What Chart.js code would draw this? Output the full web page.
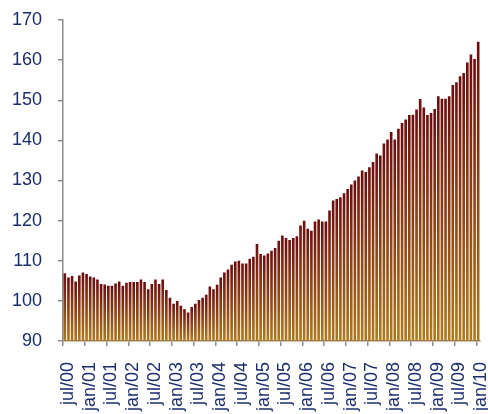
<!DOCTYPE html>
<html>
<head>
<meta charset="utf-8">
<script src="https://cdn.jsdelivr.net/npm/chart.js@4/dist/chart.umd.min.js"></script>
<style>
  html, body { margin: 0; padding: 0; background: #fff; }
  #wrap { width: 488px; height: 414px; }
</style>
</head>
<body>
<div id="wrap"><canvas id="indexChart" width="488" height="414"></canvas></div>
<script>
// monthly index values, jul/00 .. jan/10
const v2000 = [106.9, 105.8, 106.2, 104.8, 106.3, 107.1];
const v2001 = [106.7, 106.1, 105.8, 105.3, 104.2, 104.1, 103.8, 103.8, 104.3, 104.8, 103.8, 104.5];
const v2002 = [104.7, 104.7, 104.7, 105.3, 104.7, 102.9, 104.2, 105.3, 104.2, 105.3, 102.7, 100.8];
const v2003 = [99.3, 100, 98.8, 97.9, 97.1, 98.5, 99.3, 100.2, 100.8, 101.5, 103.6, 102.9];
const v2004 = [104, 105.8, 107.1, 107.8, 109, 109.8, 110, 109.3, 109.3, 110.5, 111, 114.2];
const v2005 = [111.7, 111.3, 111.8, 112.5, 113.2, 115, 116.3, 115.7, 115.2, 115.7, 116.1, 118.8];
const v2006 = [120, 118, 117.5, 119.8, 120.3, 119.8, 119.8, 122.5, 125, 125.4, 125.8, 126.8];
const v2007 = [127.9, 129, 130, 131, 132.5, 132.1, 133.3, 134.6, 136.7, 136.2, 139.2, 140.2];
const v2008 = [142.1, 140.2, 142.9, 144.3, 145.2, 146.3, 146.4, 147.7, 150.3, 148.2, 146.3, 146.8];
const v2009 = [147.8, 151, 150.4, 150.4, 151, 153.8, 154.5, 156, 156.8, 159.4, 161.4, 160.3];
const v2010 = [164.6];

// one label every 6 months
const tickLabels = ['jul/00', 'jan/01', 'jul/01', 'jan/02', 'jul/02', 'jan/03', 'jul/03', 'jan/04',
  'jul/04', 'jan/05', 'jul/05', 'jan/06', 'jul/06', 'jan/07', 'jul/07', 'jan/08', 'jul/08',
  'jan/09', 'jul/09', 'jan/10'];
const monthNames = ['jan', 'feb', 'mar', 'apr', 'may', 'jun', 'jul', 'aug', 'sep', 'oct', 'nov', 'dec'];

const values = [].concat(v2000, v2001, v2002, v2003, v2004, v2005, v2006, v2007, v2008, v2009, v2010);
const categories = values.map((v, i) => {
  const m = (6 + i) % 12;
  const y = 2000 + Math.floor((6 + i) / 12);
  return monthNames[m] + '/' + String(y).slice(2);
});

const axisGrey = '#8c8c8c';
const labelBlue = '#1c2d6e';
const font = { family: "'Liberation Sans', Arial, sans-serif", size: 18 };

function barFill(ctx) {
  const chart = ctx.chart;
  const area = chart.chartArea;
  if (!area || ctx.raw === undefined) return '#7a2a15';
  const top = chart.scales.y.getPixelForValue(ctx.raw);
  const g = chart.ctx.createLinearGradient(0, top, 0, area.bottom);
  g.addColorStop(0, '#6c0c0c');
  g.addColorStop(1, '#b07a1c');
  return g;
}

new Chart(document.getElementById('indexChart'), {
  type: 'bar',
  data: {
    labels: categories,
    datasets: [{
      data: values,
      backgroundColor: barFill,
      borderWidth: 0,
      barPercentage: 0.72,
      categoryPercentage: 1
    }]
  },
  options: {
    responsive: false,
    animation: false,
    layout: { padding: { top: 20, right: 8, left: 0, bottom: 0 } },
    plugins: { legend: { display: false }, tooltip: { enabled: false } },
    scales: {
      x: {
        offset: true,
        grid: {
          offset: true,
          drawOnChartArea: false,
          drawTicks: true,
          tickLength: 5,
          lineWidth: 1.5,
          color: c => (c.index % 6 === 0 ? axisGrey : 'rgba(0,0,0,0)')
        },
        border: { display: true, color: axisGrey, width: 1.5 },
        ticks: {
          autoSkip: false,
          maxRotation: 90,
          minRotation: 90,
          padding: 16,
          labelOffset: 3,
          color: labelBlue,
          font: font,
          callback: (v, i) => (i % 6 === 0 ? tickLabels[i / 6] : '')
        },
        afterFit: s => { s.height = 73; s.paddingLeft = 0; s.paddingRight = 0; }
      },
      y: {
        min: 90,
        max: 170,
        grid: {
          drawOnChartArea: false,
          drawTicks: true,
          tickLength: 5,
          lineWidth: 1.5,
          color: axisGrey
        },
        border: { display: true, color: axisGrey, width: 1.5 },
        ticks: {
          stepSize: 10,
          padding: 16,
          color: labelBlue,
          font: font
        },
        afterFit: s => { s.width = 63; s.paddingTop = 0; s.paddingBottom = 0; }
      }
    }
  }
});
</script>
</body>
</html>
